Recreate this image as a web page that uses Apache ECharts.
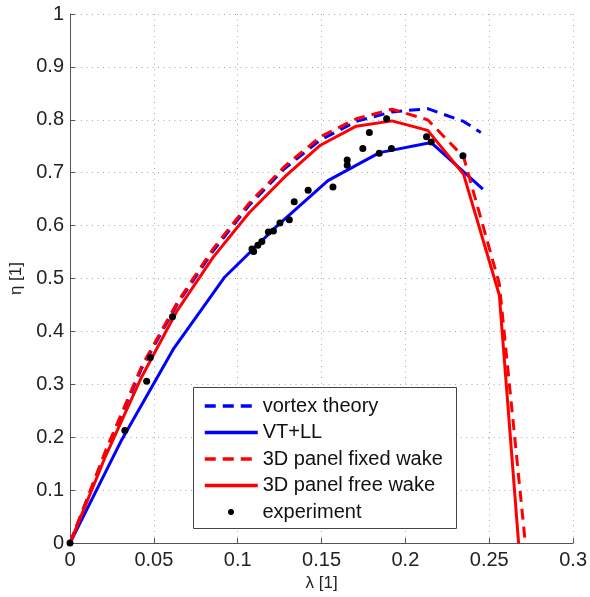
<!DOCTYPE html>
<html>
<head>
<meta charset="utf-8">
<script src="https://cdn.jsdelivr.net/npm/echarts@6/dist/echarts.min.js"></script>
<style>
 html, body { margin: 0; padding: 0; background: #fff; }
 #chart { width: 590px; height: 597px; }
</style>
</head>
<body>
<div id="chart"></div>
<script>
 // vortex theory (blue dashed)
 var vortexX = [0, 0.0213, 0.0427, 0.064, 0.0853, 0.1067, 0.128, 0.1493, 0.1707, 0.192, 0.2133, 0.2347, 0.245];
 var vortexY = [0, 0.172, 0.330, 0.452, 0.552, 0.638, 0.708, 0.762, 0.797, 0.815, 0.821, 0.797, 0.776];

 // VT+LL (blue solid)
 var vtllX = [0, 0.0308, 0.0615, 0.0923, 0.123, 0.1538, 0.1846, 0.2154, 0.2462];
 var vtllY = [0, 0.195, 0.366, 0.503, 0.598, 0.685, 0.738, 0.757, 0.669];

 // 3D panel fixed wake (red dashed)
 var fixedX = [0, 0.0213, 0.0427, 0.064, 0.0853, 0.1067, 0.128, 0.1493, 0.1707, 0.192, 0.2133, 0.2347, 0.256, 0.2715];
 var fixedY = [0, 0.175, 0.334, 0.455, 0.556, 0.642, 0.712, 0.768, 0.802, 0.820, 0.800, 0.730, 0.490, 0];

 // 3D panel free wake (red solid)
 var freeX = [0, 0.0213, 0.0427, 0.064, 0.0853, 0.1067, 0.128, 0.1493, 0.1707, 0.192, 0.2133, 0.2347, 0.256, 0.2675];
 var freeY = [0, 0.165, 0.314, 0.440, 0.540, 0.624, 0.692, 0.752, 0.788, 0.798, 0.780, 0.697, 0.469, 0];

 // experiment (black dots)
 var expX = [0, 0.0327, 0.0457, 0.0479, 0.0611, 0.1085, 0.1095, 0.112, 0.1144, 0.1183, 0.1213, 0.1252, 0.1308, 0.1337, 0.142, 0.1568, 0.1653, 0.1653, 0.1746, 0.1785, 0.1844, 0.1888, 0.1917, 0.2126, 0.2154, 0.2343];
 var expY = [0, 0.213, 0.306, 0.351, 0.428, 0.556, 0.551, 0.563, 0.570, 0.588, 0.590, 0.605, 0.611, 0.645, 0.667, 0.673, 0.724, 0.714, 0.746, 0.776, 0.737, 0.802, 0.746, 0.768, 0.758, 0.732];

 var seriesNames = ["vortex theory", "VT+LL", "3D panel fixed wake", "3D panel free wake", "experiment"];

 function pairs(xs, ys) {
  var out = [];
  for (var i = 0; i < xs.length; i++) {
   out.push([xs[i], ys[i]]);
  }
  return out;
 }

 var font = "'Liberation Sans', Arial, Helvetica, sans-serif";
 var dash = [11, 7];

 function lineSeries(name, xs, ys, color, dashed) {
  return {
   name: name,
   type: "line",
   data: pairs(xs, ys),
   symbol: "none",
   showSymbol: false,
   clip: true,
   lineStyle: { color: color, width: 3, type: dashed ? dash : "solid" },
   // no marker, also hides the legend's dot
   itemStyle: { color: color, opacity: 0 }
  };
 }

 var myChart = echarts.init(document.getElementById("chart"), null, { renderer: "canvas" });
 var option = {
  animation: false,
  backgroundColor: "#fff",
  textStyle: { fontFamily: font },
  grid: { left: 70, right: 13, top: 14, bottom: 51, containLabel: false },
  xAxis: {
   type: "value",
   min: 0,
   max: 0.3,
   interval: 0.05,
   name: "λ [1]",
   nameLocation: "middle",
   nameGap: 31,
   nameTextStyle: { fontSize: 17, color: "#222", fontFamily: font },
   axisLine: { show: true, onZero: false, lineStyle: { color: "#555", width: 1 } },
   axisTick: { show: true, inside: true, length: 5, lineStyle: { color: "#555" } },
   axisLabel: { fontSize: 20, color: "#222", margin: 7, fontFamily: font },
   splitLine: { show: true, lineStyle: { color: "#aaa", width: 1, type: [1, 4.5] } }
  },
  yAxis: {
   type: "value",
   min: 0,
   max: 1,
   interval: 0.1,
   name: "η [1]",
   nameLocation: "middle",
   nameGap: 44,
   nameTextStyle: { fontSize: 17, color: "#222", fontFamily: font },
   axisLine: { show: true, onZero: false, lineStyle: { color: "#555", width: 1 } },
   axisTick: { show: true, inside: true, length: 5, lineStyle: { color: "#555" } },
   axisLabel: { fontSize: 20, color: "#222", margin: 6, fontFamily: font },
   splitLine: { show: true, lineStyle: { color: "#aaa", width: 1, type: [1, 4.5] } }
  },
  graphic: [{
   type: "rect",
   left: 193,
   top: 387,
   shape: { width: 263, height: 141 },
   style: { fill: "#fff", stroke: "#444", lineWidth: 1 },
   z: 5
  }],
  legend: [{
   data: seriesNames.slice(0, 4),
   orient: "vertical",
   left: 203,
   top: 396,
   padding: 0,
   itemWidth: 53,
   itemHeight: 14,
   itemGap: 6.5,
   lineStyle: { width: 3.5 },
   textStyle: { fontSize: 20, lineHeight: 20, color: "#111", fontFamily: font },
   z: 10
  }, {
   data: [{ name: "experiment", icon: "circle" }],
   orient: "vertical",
   left: 228,
   top: 502,
   padding: 0,
   itemWidth: 53,
   itemHeight: 6,
   textStyle: { fontSize: 20, lineHeight: 20, color: "#111", fontFamily: font },
   z: 10
  }],
  series: [
   lineSeries(seriesNames[0], vortexX, vortexY, "#0000ff", true),
   lineSeries(seriesNames[1], vtllX, vtllY, "#0000ff", false),
   lineSeries(seriesNames[2], fixedX, fixedY, "#ff0000", true),
   lineSeries(seriesNames[3], freeX, freeY, "#ff0000", false),
   {
    name: seriesNames[4],
    type: "scatter",
    data: pairs(expX, expY),
    symbol: "circle",
    symbolSize: 7,
    itemStyle: { color: "#000", opacity: 1 },
    z: 4
   }
  ]
 };
 if (option && typeof option === "object") {
  myChart.setOption(option, true);
 }
</script>
</body>
</html>
